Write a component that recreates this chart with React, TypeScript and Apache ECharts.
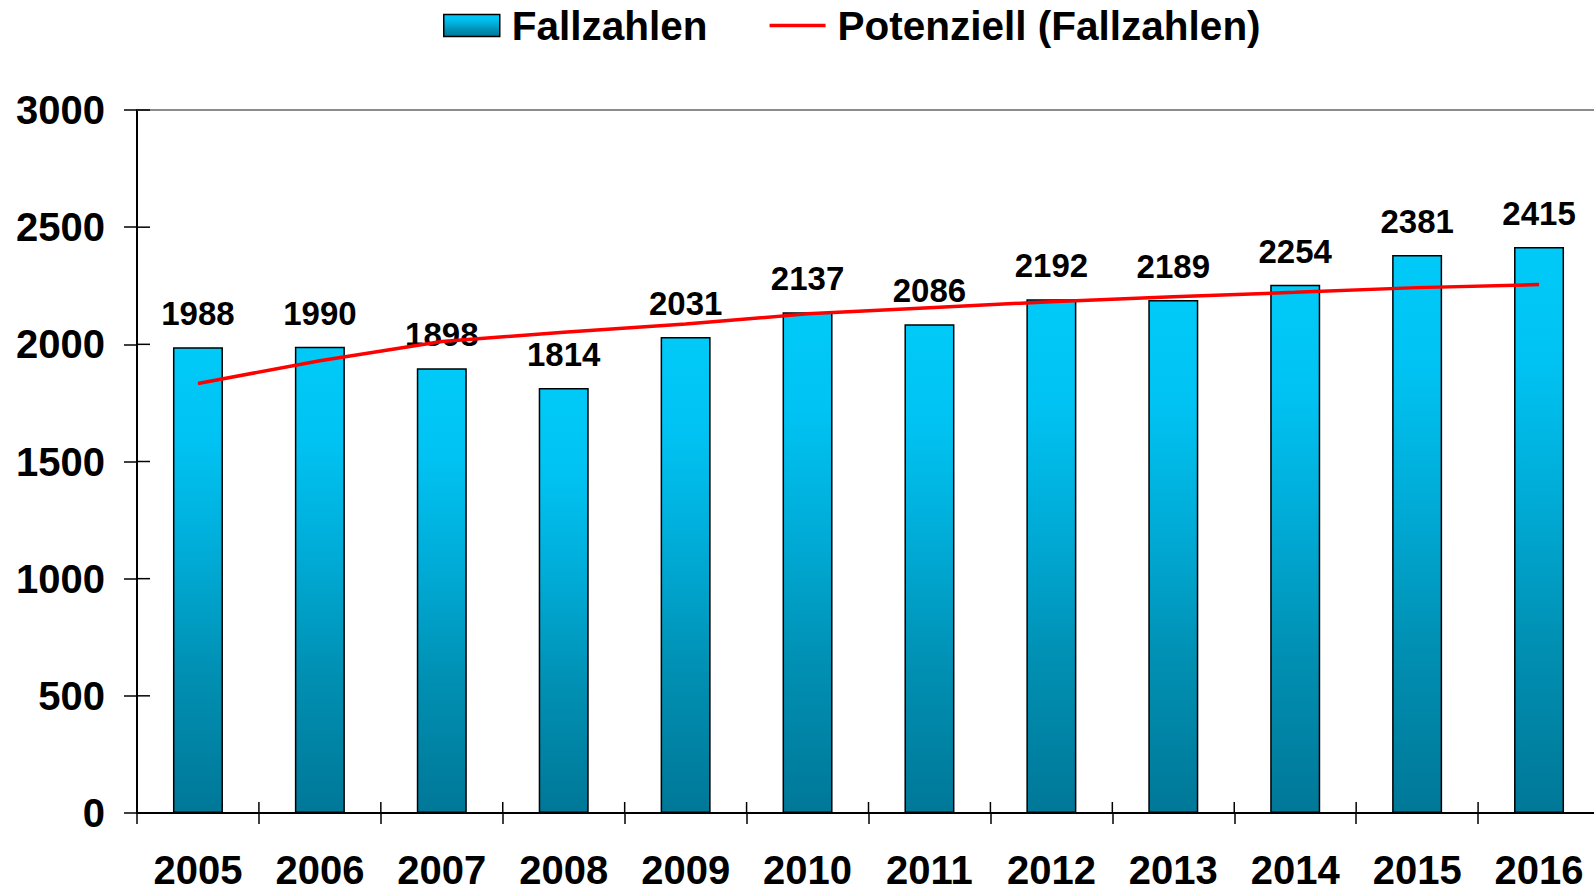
import React, { useEffect, useRef } from "react";
import * as echarts from "echarts";

const years = ["2005", "2006", "2007", "2008", "2009", "2010", "2011", "2012", "2013", "2014", "2015", "2016"];
const fallzahlen = [1988, 1990, 1898, 1814, 2031, 2137, 2086, 2192, 2189, 2254, 2381, 2415];
const potenziell = [1833, 1930, 2012, 2052, 2087, 2130, 2156, 2182, 2203, 2222, 2242, 2255];
const yTickValues = [0, 500, 1000, 1500, 2000, 2500, 3000];
const yTicks = { min: 0, max: 3000, interval: 500 };

const FONT = "'Liberation Sans', Arial, sans-serif";

const W = 1594;
const H = 891;
const GRID = { left: 137, width: 1463, top: 110, height: 703 };

export default function App() {
  const ref = useRef<HTMLDivElement>(null);
  useEffect(() => {
    if (!ref.current) return;
    const chart = echarts.init(ref.current, null, { renderer: "svg" });
    const barGradient = new echarts.graphic.LinearGradient(0, 0, 0, 1, [
      { offset: 0, color: "#00CAF8" },
      { offset: 0.2, color: "#00C3F3" },
      { offset: 0.45, color: "#00ABD6" },
      { offset: 0.7, color: "#0090B3" },
      { offset: 1, color: "#007898" },
    ]);
    const tickStyle = { stroke: "#000", lineWidth: 1.5, fill: null };
    chart.setOption({
      animation: false,
      backgroundColor: "#ffffff",
      textStyle: { fontFamily: FONT },
      legend: {
        left: 438,
        top: 0,
        itemWidth: 56,
        itemHeight: 22,
        itemGap: 62,
        textStyle: { fontSize: 40.5, fontWeight: "bold", color: "#000", fontFamily: FONT, padding: [0, 0, 0, 7] },
        data: [
          { name: "Fallzahlen", icon: "rect", itemStyle: { color: barGradient, borderColor: "#000", borderWidth: 1.5 } },
          { name: "Potenziell (Fallzahlen)", icon: "path://M0,0 L60,0 L60,4 L0,4 Z", itemStyle: { color: "#ff0000", borderWidth: 0 } },
        ],
      },
      grid: { ...GRID, containLabel: false, outerBoundsMode: "none" },
      xAxis: {
        type: "category",
        data: years,
        position: "bottom",
        axisLine: { show: true, lineStyle: { color: "#000", width: 2 } },
        axisTick: { show: true, inside: false, length: 11, lineStyle: { color: "#000", width: 1.5 } },
        axisLabel: {
          color: "#000",
          fontSize: 40,
          fontWeight: "bold",
          fontFamily: FONT,
          margin: 40,
          lineHeight: 34,
        },
        splitLine: { show: false },
      },
      yAxis: {
        type: "value",
        min: yTicks.min,
        max: yTicks.max,
        interval: yTicks.interval,
        position: "left",
        axisLine: { show: true, lineStyle: { color: "#000", width: 2 } },
        axisTick: { show: true, inside: false, length: 13, lineStyle: { color: "#000", width: 1.5 } },
        axisLabel: {
          color: "#000",
          fontSize: 40,
          fontWeight: "bold",
          fontFamily: FONT,
          margin: 32,
          formatter: (v: number) => String(v),
        },
        splitLine: { show: false },
      },
      series: [
        {
          name: "Fallzahlen",
          type: "bar",
          data: fallzahlen,
          barWidth: 50,
          itemStyle: { color: barGradient, borderColor: "#000", borderWidth: 1.5 },
          label: {
            show: true,
            position: "top",
            distance: 17,
            color: "#000",
            fontSize: 33,
            fontWeight: "bold",
            fontFamily: FONT,
            lineHeight: 33,
          },
          markLine: {
            silent: true,
            symbol: "none",
            label: { show: false },
            lineStyle: { color: "#8c8c8c", width: 2, type: "solid" },
            data: [{ yAxis: 3000 }],
          },
        },
        {
          name: "Potenziell (Fallzahlen)",
          type: "line",
          data: potenziell,
          symbol: "none",
          smooth: false,
          lineStyle: { color: "#ff0000", width: 3.5 },
          itemStyle: { color: "#ff0000" },
          z: 5,
        },
        {
          name: "_xTicksInner",
          type: "custom",
          silent: true,
          clip: false,
          data: years.map((_, i) => [i, 0]),
          renderItem: (params: any, api: any) => {
            const i = api.value(0);
            const p = api.coord([i, 0]);
            const bw = api.size([1, 0])[0];
            const x = p[0] + bw / 2;
            if (i === years.length - 1) return null;
            return { type: "line", shape: { x1: x, y1: p[1], x2: x, y2: p[1] - 11 }, style: tickStyle };
          },
          z: 10,
        },
        {
          name: "_yTicksInner",
          type: "custom",
          silent: true,
          clip: false,
          data: yTickValues.map((v) => [0, v]),
          renderItem: (params: any, api: any) => {
            const p = api.coord([0, api.value(1)]);
            const bw = api.size([1, 0])[0];
            const x = p[0] - bw / 2;
            return { type: "line", shape: { x1: x, y1: p[1], x2: x + 13, y2: p[1] }, style: tickStyle };
          },
          z: 10,
        },
      ],
    });
    return () => chart.dispose();
  }, []);
  return <div ref={ref} style={{ width: W, height: H, position: "absolute", left: 0, top: 0 }} />;
}
